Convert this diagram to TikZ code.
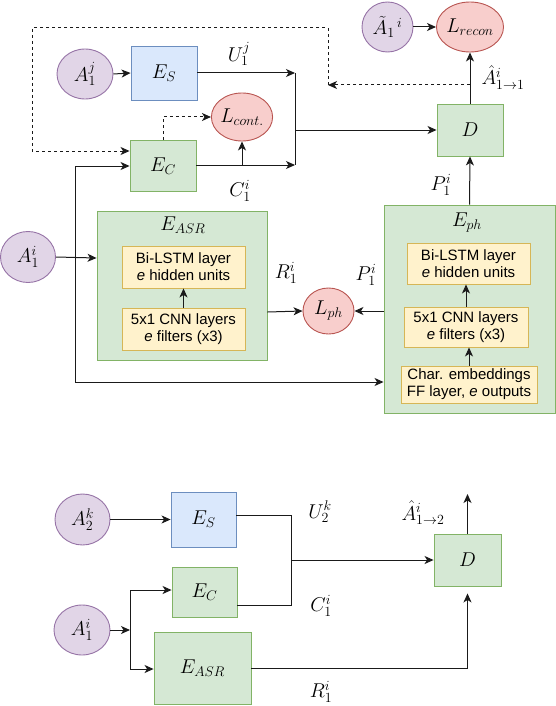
\RequirePackage{fix-cm}
\documentclass[tikz,border=0pt]{standalone}
\usepackage[no-math]{fontspec}
\setmainfont{Liberation Sans}
\usetikzlibrary{arrows.meta,shapes.geometric,calc}
\definecolor{pfill}{HTML}{E1D5E7}\definecolor{pdraw}{HTML}{9673A6}
\definecolor{rfill}{HTML}{F8CECC}\definecolor{rdraw}{HTML}{B85450}
\definecolor{gfill}{HTML}{D5E8D4}\definecolor{gdraw}{HTML}{82B366}
\definecolor{bfill}{HTML}{DAE8FC}\definecolor{bdraw}{HTML}{6C8EBF}
\definecolor{yfill}{HTML}{FFF2CC}\definecolor{ydraw}{HTML}{D6B656}
\definecolor{edgec}{HTML}{1A1A1A}
\tikzset{
  mfont/.style={font=\fontsize{20}{22}\selectfont},
  tfont/.style={font=\fontsize{15}{16.8}\selectfont},
  purp/.style={ellipse,draw=pdraw,fill=pfill,line width=0.9pt,inner sep=0pt,mfont},
  redc/.style={ellipse,draw=rdraw,fill=rfill,line width=0.9pt,inner sep=0pt,mfont},
  greenbox/.style={rectangle,draw=gdraw,fill=gfill,line width=0.9pt,inner sep=0pt,mfont},
  bluebox/.style={rectangle,draw=bdraw,fill=bfill,line width=0.9pt,inner sep=0pt,mfont},
  yelbox/.style={rectangle,draw=ydraw,fill=yfill,line width=0.9pt,inner sep=0pt,tfont,align=center},
  lbl/.style={inner sep=0pt,mfont},
  conn/.style={draw=edgec,line width=1pt},
  arr/.style={conn,-{Stealth[length=9pt,width=8pt,inset=2.5pt]}},
  dsh/.style={dash pattern=on 3pt off 3pt},
}
\begin{document}
\begin{tikzpicture}[x=1pt,y=-1pt]
\useasboundingbox (0,0) rectangle (556,706);
% ---------- top part ----------
\node[purp,minimum width=56pt,minimum height=50pt] (ajt) at (85,74) {$A_1^j$};
\node[bluebox,minimum width=66pt,minimum height=54pt] (es1) at (164,73) {$E_S$};
\node[greenbox,minimum width=66pt,minimum height=51pt] (ec1) at (163,166) {$E_C$};
\node[redc,minimum width=50pt,minimum height=48pt] (lcont) at (242,117) {$L_{cont.}$};
\node[greenbox,minimum width=66pt,minimum height=52pt] (d1) at (470,130) {$D$};
\node[redc,minimum width=48pt,minimum height=50pt] (lrecon) at (470,27) {$L_{recon}$};
\node[purp,minimum width=51pt,minimum height=50pt] (atil) at (387.5,27) {$\tilde{A}_1{}^{\,i}$};
\node[purp,minimum width=55pt,minimum height=51pt] (ai1) at (28,257) {$A_1^i$};
\node[greenbox,minimum width=170pt,minimum height=149pt] (easr) at (182,285.5) {};
\node[lbl] (easrl) at (183,225) {$E_{ASR}$};
\node[yelbox,minimum width=123pt,minimum height=42pt] (bl1) at (183.5,267) {Bi-LSTM layer\\\textit{e} hidden units};
\node[yelbox,minimum width=123pt,minimum height=42pt] (cnn1) at (183.5,329) {5x1 CNN layers\\\textit{e} filters (x3)};
\node[redc,minimum width=51pt,minimum height=46pt] (lph) at (328.5,311) {$L_{ph}$};
\node[greenbox,minimum width=171pt,minimum height=208pt] (eph) at (469.5,309) {};
\node[lbl] (ephl) at (467,223) {$E_{ph}$};
\node[yelbox,minimum width=123pt,minimum height=41pt] (bl2) at (468.5,263.5) {Bi-LSTM layer\\\textit{e} hidden units};
\node[yelbox,minimum width=124pt,minimum height=40pt] (cnn2) at (466,327) {5x1 CNN layers\\\textit{e} filters (x3)};
\node[yelbox,minimum width=136pt,minimum height=37pt] (chr) at (469,384.5) {Char. embeddings\\FF layer, \textit{e} outputs};
% labels
\node[lbl] (u1j) at (239,54) {$U_1^j$};
\node[lbl] (c1i) at (240,191) {$C_1^i$};
\node[lbl] (r1i) at (286,273) {$R_1^i$};
\node[lbl] (p1ia) at (366,275) {$P_1^i$};
\node[lbl] (p1ib) at (441,185) {$P_1^i$};
\node[lbl] (ah11) at (503,78) {$\hat{A}^i_{1\rightarrow 1}$};
% coordinates
\coordinate (m1) at (295,73);
\coordinate (m2) at (295,165);
\coordinate (m3) at (295,130);
\coordinate (c1) at (242,165);
\coordinate (dA) at (470,85);
\coordinate (dB) at (328,85);
\coordinate (dC) at (328,28);
\coordinate (dD) at (32,28);
\coordinate (dE) at (32,151);
\coordinate (j1) at (75,258);
\coordinate (j1b) at (75,382);
% connectors
\draw[arr] (ajt.east) -- (es1.west);
\draw[arr] (es1.east) -- (m1);
\draw[arr] (ec1.east |- m2) -- (m2);
\draw[conn] (m1) -- (m2);
\draw[arr] (m3) -- (d1.west);
\draw[arr] (c1) -- (lcont.south);
\draw[arr,dsh] (ec1.north) |- (lcont.west);
\draw[arr,dsh] (dA) -- (dB);
\draw[arr,dsh] (dB) -- (dC) -- (dD) -- (dE) -- (ec1.west |- dE);
\draw[arr] (d1.north) -- (lrecon.south);
\draw[arr] (atil.east) -- (lrecon.west);
\draw[arr] (ai1.east) -- (easr.west |- j1);
\draw[arr] (j1) |- (ec1.west);
\draw[conn] (j1) -- (j1b);
\draw[arr] (j1b) -- (eph.west |- j1b);
\draw[arr] (easr.east |- 0,312) -- (lph.west);
\draw[arr] (eph.west |- lph.east) -- (lph.east);
\draw[arr] (cnn1.north) -- (bl1.south);
\draw[arr] (chr.north) -- (chr.north |- cnn2.south);
\draw[arr] (cnn2.north) -- (cnn2.north |- bl2.south);
\draw[arr] (eph.north) -- (d1.south);
% ---------- bottom part ----------
\node[purp,minimum width=55pt,minimum height=51pt] (a2k) at (82.5,519.5) {$A_2^k$};
\node[bluebox,minimum width=65pt,minimum height=55pt] (es2) at (203.5,519.5) {$E_S$};
\node[greenbox,minimum width=65pt,minimum height=50pt] (ec2) at (204.5,592) {$E_C$};
\node[greenbox,minimum width=97pt,minimum height=72pt] (easr2) at (202.5,668) {$E_{ASR}$};
\node[purp,minimum width=56pt,minimum height=50pt] (ai2) at (82,630) {$A_1^i$};
\node[greenbox,minimum width=67pt,minimum height=52pt] (d2) at (467.5,560) {$D$};
\node[lbl] (u2k) at (320,512) {$U_2^k$};
\node[lbl] (c1ib) at (321,606) {$C_1^i$};
\node[lbl] (r1ib) at (321,692) {$R_1^i$};
\node[lbl] (ah12) at (423,513) {$\hat{A}^i_{1\rightarrow 2}$};
\coordinate (j2) at (130,630);
\coordinate (n1) at (291,515);
\coordinate (n2) at (291,605);
\coordinate (n3) at (291,560);
\coordinate (out2) at (467.5,494);
\draw[arr] (a2k.east) -- (es2.west);
\draw[arr] (ai2.east) -- (j2);
\draw[arr] (j2) |- (ec2.west |- 0,590);
\draw[arr] (j2) |- (easr2.west |- 0,669);
\draw[conn] (es2.east |- n1) -- (n1) -- (n2) -- (ec2.east |- n2);
\draw[arr] (n3) -- (d2.west);
\draw[arr,shorten >=7pt] (easr2.east) -| (d2.south);
\draw[arr] (d2.north) -- (out2);
\end{tikzpicture}
\end{document}
